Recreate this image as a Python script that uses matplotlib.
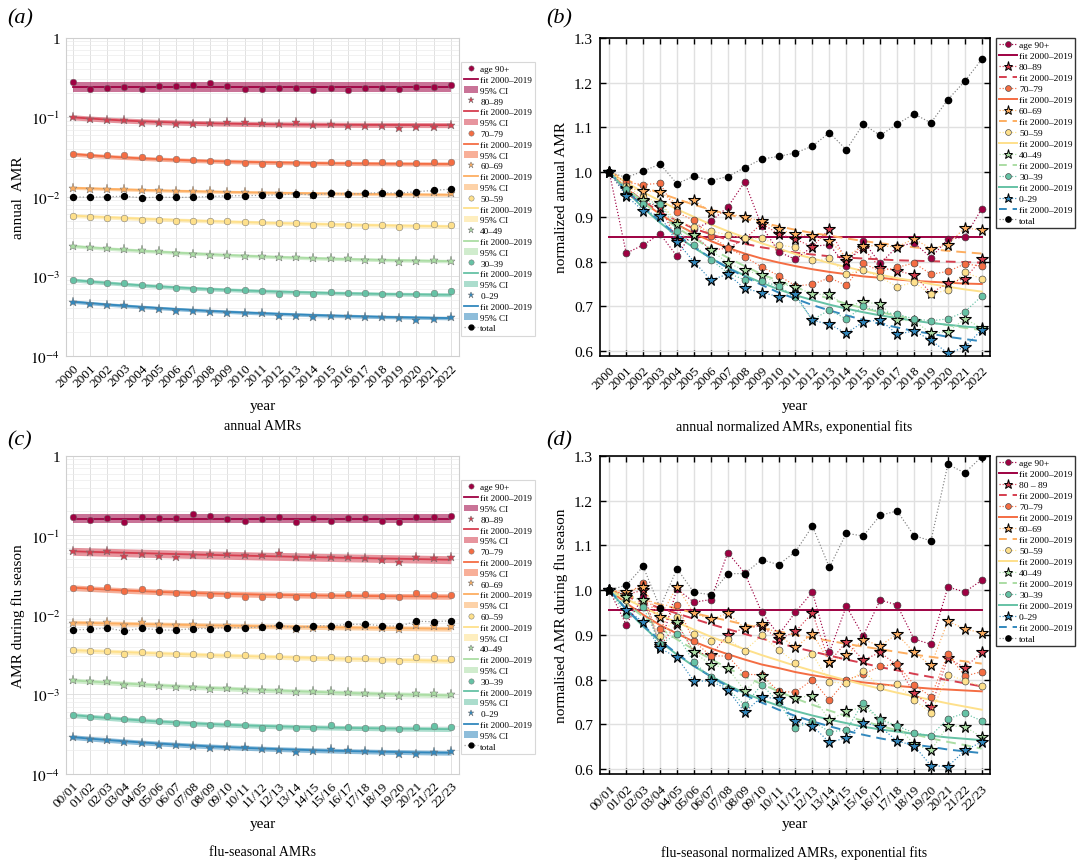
import matplotlib
matplotlib.use('Agg')
import matplotlib.pyplot as plt
from matplotlib.lines import Line2D
from matplotlib.patches import Patch
import numpy as np

plt.rcParams['font.family'] = 'serif'
plt.rcParams['font.serif'] = ['Liberation Serif', 'DejaVu Serif']
plt.rcParams['mathtext.fontset'] = 'stix'

years = [str(y) for y in range(2000, 2023)]
seasons = ['%02d/%02d' % (i, i + 1) for i in range(23)]

colors = ['#9e0142', '#d53e4f', '#f46d43', '#fdae61', '#fee08b', '#abdda4', '#66c2a5', '#3288bd']
markers = ['o', '*', 'o', '*', 'o', '*', 'o', '*']
fit_ls = ['-', '--', '-', '--', '-', '--', '-', '--']
labels_a = ['age 90+', '80–89', '70–79', '60–69', '50–59', '40–49', '30–39', '0–29']
labels_b = ['age 90+', '80–89', '70–79', '60–69', '50–59', '40–49', '30–39', '0–29']
labels_c = ['age 90+', '80–89', '70–79', '60–69', '60–59', '40–49', '30–39', '0–29']
labels_d = ['age 90+', '80 – 89', '70–79', '60–69', '50–59', '40–49', '30–39', '0–29']

# AMR in reference year (2000 resp. 00/01)
base_ann = [0.28, 0.100, 0.0345, 0.0130, 0.0058, 0.0024, 0.00090, 0.00048]
base_ann_tot = 0.0100
base_flu = [0.170, 0.063, 0.0220, 0.0080, 0.0036, 0.00150, 0.00055, 0.00029]
base_flu_tot = 0.0065

# normalized annual AMRs
norm_ann = [
    [1.0, 0.819, 0.837, 0.862, 0.812, 0.872, 0.890, 0.922, 0.978, 0.880, 0.822, 0.805, 0.834, 0.838, 0.790, 0.846, 0.796, 0.833, 0.842, 0.809, 0.850, 0.855, 0.918],
    [1.0, 0.948, 0.935, 0.922, 0.848, 0.860, 0.826, 0.830, 0.850, 0.885, 0.862, 0.850, 0.833, 0.873, 0.802, 0.830, 0.786, 0.780, 0.770, 0.730, 0.752, 0.762, 0.806],
    [1.0, 0.977, 0.972, 0.975, 0.910, 0.892, 0.857, 0.831, 0.811, 0.788, 0.769, 0.746, 0.749, 0.764, 0.747, 0.796, 0.779, 0.787, 0.797, 0.772, 0.778, 0.795, 0.790],
    [1.0, 0.965, 0.958, 0.956, 0.929, 0.937, 0.911, 0.907, 0.900, 0.890, 0.872, 0.861, 0.857, 0.847, 0.810, 0.836, 0.835, 0.833, 0.851, 0.829, 0.838, 0.876, 0.870],
    [1.0, 0.970, 0.944, 0.932, 0.889, 0.878, 0.868, 0.860, 0.852, 0.852, 0.837, 0.832, 0.803, 0.807, 0.772, 0.782, 0.765, 0.744, 0.754, 0.727, 0.737, 0.776, 0.762],
    [1.0, 0.962, 0.937, 0.930, 0.883, 0.859, 0.826, 0.797, 0.781, 0.770, 0.750, 0.744, 0.727, 0.727, 0.700, 0.710, 0.705, 0.669, 0.668, 0.640, 0.643, 0.672, 0.652],
    [1.0, 0.963, 0.929, 0.929, 0.869, 0.838, 0.804, 0.775, 0.759, 0.757, 0.745, 0.722, 0.670, 0.692, 0.672, 0.700, 0.688, 0.683, 0.672, 0.668, 0.672, 0.688, 0.723],
    [1.0, 0.947, 0.914, 0.902, 0.844, 0.800, 0.759, 0.772, 0.740, 0.731, 0.722, 0.727, 0.669, 0.660, 0.640, 0.665, 0.670, 0.638, 0.645, 0.625, 0.595, 0.609, 0.648],
]
norm_ann_tot = [1.0, 0.988, 1.002, 1.018, 0.974, 0.991, 0.981, 0.990, 1.010, 1.029, 1.035, 1.043, 1.058, 1.088, 1.050, 1.107, 1.082, 1.107, 1.130, 1.110, 1.162, 1.203, 1.252]

# normalized flu-season AMRs
norm_flu = [
    [1.0, 0.923, 0.985, 0.875, 1.003, 0.973, 0.979, 1.084, 1.038, 0.951, 0.900, 0.951, 0.996, 0.861, 0.964, 0.898, 0.978, 0.967, 0.891, 0.879, 1.007, 0.996, 1.022],
    [1.0, 0.990, 1.000, 0.875, 0.925, 0.862, 0.855, 0.900, 0.916, 0.920, 0.890, 0.908, 0.949, 0.840, 0.884, 0.844, 0.861, 0.832, 0.770, 0.739, 0.848, 0.827, 0.861],
    [1.0, 0.990, 1.015, 0.914, 0.966, 0.886, 0.853, 0.853, 0.812, 0.811, 0.774, 0.772, 0.800, 0.754, 0.800, 0.812, 0.830, 0.835, 0.789, 0.762, 0.857, 0.808, 0.818],
    [1.0, 0.997, 1.006, 0.940, 1.008, 0.948, 0.935, 0.948, 0.915, 0.925, 0.900, 0.872, 0.903, 0.840, 0.855, 0.889, 0.876, 0.902, 0.861, 0.832, 0.931, 0.913, 0.905],
    [1.0, 0.977, 0.972, 0.897, 0.941, 0.902, 0.887, 0.891, 0.865, 0.899, 0.867, 0.838, 0.857, 0.795, 0.792, 0.820, 0.784, 0.790, 0.755, 0.726, 0.811, 0.798, 0.785],
    [1.0, 0.985, 0.978, 0.880, 0.928, 0.862, 0.833, 0.826, 0.775, 0.809, 0.767, 0.760, 0.764, 0.710, 0.729, 0.739, 0.713, 0.697, 0.656, 0.642, 0.697, 0.695, 0.672],
    [1.0, 0.944, 0.963, 0.880, 0.901, 0.839, 0.805, 0.780, 0.743, 0.789, 0.750, 0.693, 0.707, 0.684, 0.687, 0.749, 0.710, 0.697, 0.681, 0.675, 0.713, 0.725, 0.708],
    [1.0, 0.955, 0.930, 0.870, 0.850, 0.797, 0.797, 0.778, 0.727, 0.762, 0.757, 0.707, 0.697, 0.660, 0.670, 0.704, 0.695, 0.663, 0.653, 0.608, 0.606, 0.642, 0.661],
]
norm_flu_tot = [1.0, 1.011, 1.053, 0.961, 1.048, 0.995, 0.990, 1.037, 1.037, 1.068, 1.057, 1.086, 1.143, 1.051, 1.127, 1.121, 1.167, 1.177, 1.122, 1.110, 1.281, 1.262, 1.298]

# exponential fits 2000-2019 (normalized)
fit_ann = [
    [0.855] * 23,
    [1.0, .965, .935, .911, .891, .874, .861, .849, .840, .832, .826, .820, .816, .812, .809, .807, .805, .803, .802, .801, .800, .799, .798],
    [1.0, .964, .933, .906, .883, .863, .846, .831, .818, .807, .798, .790, .783, .777, .772, .767, .764, .760, .757, .755, .753, .751, .750],
    [1.0, .983, .967, .953, .940, .927, .916, .906, .896, .887, .879, .871, .864, .858, .852, .846, .841, .837, .832, .828, .824, .821, .818],
    [1.0, .977, .955, .936, .917, .900, .883, .868, .854, .841, .829, .817, .807, .797, .788, .779, .771, .763, .757, .750, .744, .738, .733],
    [1.0, .965, .932, .903, .876, .852, .829, .809, .790, .772, .757, .743, .729, .717, .706, .696, .687, .679, .671, .664, .658, .652, .647],
    [1.0, .958, .920, .887, .857, .831, .808, .787, .769, .753, .738, .725, .714, .704, .695, .687, .680, .674, .668, .663, .659, .655, .652],
    [1.0, .960, .923, .890, .860, .833, .808, .786, .766, .748, .731, .717, .703, .691, .680, .670, .661, .653, .645, .639, .632, .627, .622],
]
fit_flu = [
    [0.955] * 23,
    [1.0, .986, .973, .960, .948, .936, .924, .913, .902, .892, .882, .872, .863, .854, .845, .837, .828, .821, .813, .806, .799, .792, .785],
    [1.0, .971, .945, .922, .903, .885, .870, .857, .845, .834, .826, .817, .810, .804, .799, .794, .790, .786, .783, .780, .778, .776, .774],
    [1.0, .989, .978, .968, .959, .949, .940, .932, .923, .915, .908, .900, .893, .887, .880, .874, .868, .862, .856, .851, .846, .841, .836],
    [1.0, .980, .962, .944, .928, .912, .896, .882, .868, .855, .843, .831, .820, .809, .799, .789, .780, .771, .763, .755, .747, .740, .733],
    [1.0, .969, .941, .915, .890, .867, .846, .826, .807, .790, .774, .758, .744, .731, .719, .708, .697, .687, .678, .669, .661, .654, .646],
    [1.0, .957, .919, .885, .856, .830, .808, .788, .770, .755, .742, .730, .720, .711, .703, .695, .689, .684, .679, .675, .671, .668, .665],
    [1.0, .958, .921, .888, .858, .831, .807, .785, .766, .749, .733, .719, .707, .696, .686, .677, .669, .662, .655, .650, .644, .640, .636],
]

# half width of the 95% CI band in decades
ci_ann = [0.065, 0.032, 0.026, 0.020, 0.024, 0.022, 0.024, 0.022]
ci_flu = [0.060, 0.050, 0.035, 0.030, 0.030, 0.030, 0.030, 0.030]

x = np.arange(23)


def abs_panel(ax, ticklabels, base, base_tot, norm, norm_tot, fits, ci, labels, ylabel):
    handles = []
    for i in range(8):
        vals = base[i] * np.array(norm[i])
        fit = base[i] * np.array(fits[i])
        ax.fill_between(x, fit * 10 ** -ci[i], fit * 10 ** ci[i], color=colors[i], alpha=0.55, lw=0, zorder=2)
        ax.plot(x, fit, color=colors[i], lw=1.3, zorder=3)
        ms = 6.5 if markers[i] == '*' else 4.8
        ax.plot(x, vals, ls='none', marker=markers[i], ms=ms, mfc=colors[i], mec='0.45',
                mew=0.35, zorder=4)
        hms = 5 if markers[i] == '*' else 3.8
        handles.append(Line2D([], [], ls='none', marker=markers[i], ms=hms, mfc=colors[i], mec='0.45',
                              mew=0.35, label=labels[i]))
        handles.append(Line2D([], [], color=colors[i], lw=1.3, label='fit 2000–2019'))
        handles.append(Patch(facecolor=colors[i], alpha=0.55, lw=0, label='95% CI'))
    tot = base_tot * np.array(norm_tot)
    ax.plot(x, tot, ls=':', color='0.6', lw=0.9, marker='o', ms=4.3, mfc='k', mec='k', zorder=5)
    handles.append(Line2D([], [], ls=':', color='0.6', lw=0.9, marker='o', ms=3.5, mfc='k', mec='k', label='total'))

    ax.set_yscale('log')
    ax.set_ylim(1e-4, 1)
    ax.set_xlim(-0.4, 22.5)
    ax.set_yticks([1e-4, 1e-3, 1e-2, 1e-1, 1])
    ax.set_yticklabels(['$10^{-4}$', '$10^{-3}$', '$10^{-2}$', '$10^{-1}$', '1'], fontsize=11)
    ax.set_xticks(x)
    ax.set_xticklabels(ticklabels, rotation=45, ha='right', rotation_mode='anchor', fontsize=9.5)
    ax.tick_params(which='both', length=0, pad=4)
    ax.grid(True, which='major', color='#dcdcdc', lw=0.6)
    ax.grid(True, which='minor', axis='y', color='#ececec', lw=0.5)
    for s in ax.spines.values():
        s.set_color('#cfcfcf')
        s.set_linewidth(0.8)
    ax.set_ylabel(ylabel, fontsize=11)
    ax.set_xlabel('year', fontsize=11)
    ax.xaxis.set_label_coords(0.5, -0.135)
    leg = ax.legend(handles=handles, loc='upper left', bbox_to_anchor=(1.004, 0.925), borderaxespad=0,
                    fontsize=6.6, frameon=True, fancybox=False, handlelength=1.5, handletextpad=0.25,
                    labelspacing=0.26, borderpad=0.35)
    leg.get_frame().set_edgecolor('#cfcfcf')
    leg.get_frame().set_linewidth(0.8)


def norm_panel(ax, ticklabels, norm, norm_tot, fits, labels, ylabel):
    handles = []
    for i in range(8):
        ax.plot(x, fits[i], color=colors[i], ls=fit_ls[i], lw=1.4, zorder=3,
                dashes=(5, 3) if fit_ls[i] == '--' else (None, None))
    for i in range(8):
        if markers[i] == '*':
            mk = dict(marker='*', ms=8.5, mfc=colors[i], mec='k', mew=0.8)
            hmk = dict(marker='*', ms=6.5, mfc=colors[i], mec='k', mew=0.7)
        else:
            mk = dict(marker='o', ms=5, mfc=colors[i], mec='0.25', mew=0.45)
            hmk = dict(marker='o', ms=4.2, mfc=colors[i], mec='0.25', mew=0.45)
        ax.plot(x, norm[i], ls=':', color=colors[i], lw=0.85, zorder=4, **mk)
        handles.append(Line2D([], [], ls=':', color=colors[i], lw=0.85, label=labels[i], **hmk))
        fl = Line2D([], [], color=colors[i], ls=fit_ls[i], lw=1.4, label='fit 2000–2019')
        if fit_ls[i] == '--':
            fl.set_dashes((4, 3))
        handles.append(fl)
    ax.plot(x, norm_tot, ls=':', color='0.5', lw=0.85, marker='o', ms=4.5, mfc='k', mec='k', zorder=5)
    handles.append(Line2D([], [], ls=':', color='0.5', lw=0.85, marker='o', ms=3.8, mfc='k', mec='k', label='total'))

    ax.set_ylim(0.5895, 1.3)
    ax.set_xlim(-0.55, 22.5)
    ax.set_yticks([0.6, 0.7, 0.8, 0.9, 1.0, 1.1, 1.2, 1.3])
    ax.set_yticklabels(['%.1f' % v for v in [0.6, 0.7, 0.8, 0.9, 1.0, 1.1, 1.2, 1.3]], fontsize=11)
    ax.set_xticks(x)
    ax.set_xticklabels(ticklabels, rotation=45, ha='right', rotation_mode='anchor', fontsize=9.5)
    ax.tick_params(direction='in', top=True, right=True, length=4, width=1, pad=5)
    ax.tick_params(axis='x', pad=6)
    ax.grid(True, color='#e0e0e0', lw=1.0, zorder=0)
    ax.set_axisbelow(True)
    for s in ax.spines.values():
        s.set_color('k')
        s.set_linewidth(1.2)
    ax.set_ylabel(ylabel, fontsize=11)
    ax.set_xlabel('year', fontsize=11)
    ax.xaxis.set_label_coords(0.5, -0.135)
    leg = ax.legend(handles=handles, loc='upper left', bbox_to_anchor=(1.016, 1.0), borderaxespad=0,
                    fontsize=6.8, frameon=True, fancybox=False, handlelength=1.85, handletextpad=0.25,
                    labelspacing=0.25, borderpad=0.3)
    leg.get_frame().set_edgecolor('k')
    leg.get_frame().set_linewidth(1.0)


fig = plt.figure(figsize=(10.81, 8.62), dpi=100)
ax_a = fig.add_axes([0.061, 0.586, 0.364, 0.369])
ax_b = fig.add_axes([0.555, 0.586, 0.361, 0.369])
ax_c = fig.add_axes([0.061, 0.101, 0.364, 0.369])
ax_d = fig.add_axes([0.555, 0.101, 0.361, 0.369])

abs_panel(ax_a, years, base_ann, base_ann_tot, norm_ann, norm_ann_tot, fit_ann, ci_ann, labels_a, 'annual  AMR')
abs_panel(ax_c, seasons, base_flu, base_flu_tot, norm_flu, norm_flu_tot, fit_flu, ci_flu, labels_c, 'AMR during flu season')
norm_panel(ax_b, years, norm_ann, norm_ann_tot, fit_ann, labels_b, 'normalized annual AMR')
norm_panel(ax_d, seasons, norm_flu, norm_flu_tot, fit_flu, labels_d, 'normalised AMR during flu season')

fig.text(0.243, 1 - 427 / 862, 'annual AMRs', ha='center', va='center', fontsize=10)
fig.text(0.735, 1 - 427 / 862, 'annual normalized AMRs, exponential fits', ha='center', va='center', fontsize=10)
fig.text(0.243, 1 - 853 / 862, 'flu-seasonal AMRs', ha='center', va='center', fontsize=10)
fig.text(0.735, 1 - 853 / 862, 'flu-seasonal normalized AMRs, exponential fits', ha='center', va='center', fontsize=10)

fig.text(0.007, 1 - 19 / 862, '(a)', style='italic', fontsize=16, va='center')
fig.text(0.505, 1 - 19 / 862, '(b)', style='italic', fontsize=16, va='center')
fig.text(0.007, 1 - 441 / 862, '(c)', style='italic', fontsize=16, va='center')
fig.text(0.505, 1 - 441 / 862, '(d)', style='italic', fontsize=16, va='center')

fig.savefig('out.png', dpi=100)
